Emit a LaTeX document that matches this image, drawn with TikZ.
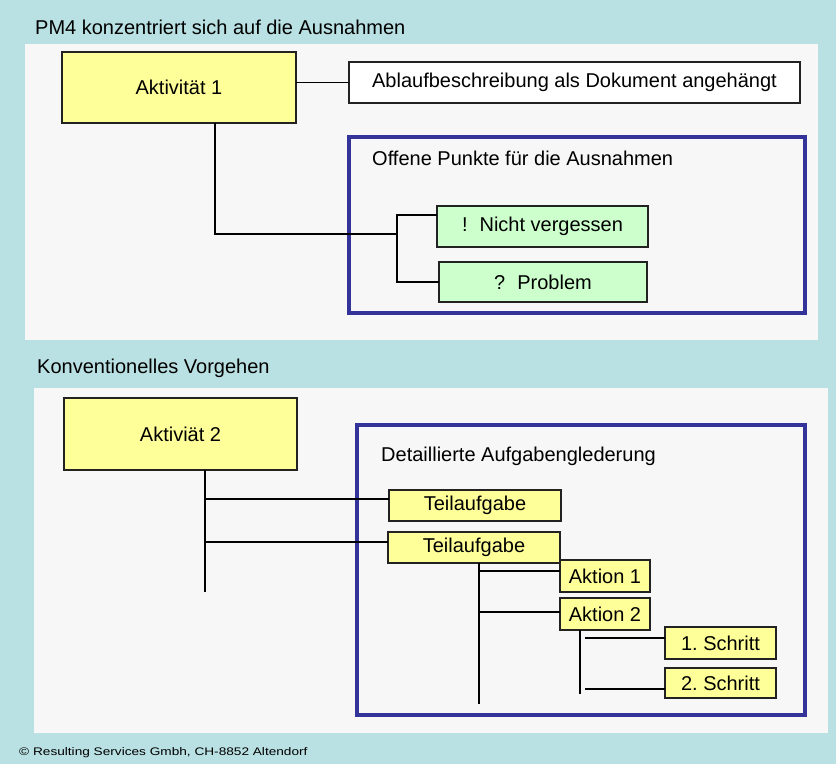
\documentclass[tikz,border=0pt]{standalone}
\usepackage{fontspec}
\setmainfont{Liberation Sans}
\frenchspacing
\definecolor{bgteal}{HTML}{B9E0E2}
\definecolor{panel}{HTML}{F7F7F7}
\definecolor{boxyellow}{HTML}{FFFF99}
\definecolor{boxgreen}{HTML}{CCFFCC}
\definecolor{frameblue}{HTML}{333399}
\definecolor{edge}{HTML}{222222}
\tikzset{
  txt/.style={font=\fontsize{20}{24}\selectfont, text=black},
  ybox/.style={txt, draw=edge, line width=1.5pt, fill=boxyellow, inner sep=0pt, outer sep=0pt},
  gbox/.style={txt, draw=edge, line width=1.5pt, fill=boxgreen, inner sep=0pt, outer sep=0pt},
  wbox/.style={txt, draw=edge, line width=1.5pt, fill=white, inner sep=0pt, outer sep=0pt},
  frame/.style={draw=frameblue, line width=4pt, inner sep=0pt, outer sep=0pt},
  conn/.style={draw=black, line width=1.4pt},
  heading/.style={txt, anchor=west, inner sep=0pt},
}
\begin{document}
\begin{tikzpicture}[x=1pt, y=-1pt]
\useasboundingbox (0,0) rectangle (836,764);
\fill[bgteal] (0,0) rectangle (836,764);
% panels
\fill[panel] (25,44) rectangle (818,340);
\fill[panel] (34,388) rectangle (828,733);

% headings
\node[heading] (h1) at (35,27) {PM4 konzentriert sich auf die Ausnahmen};
\node[heading] (h2) at (37,368) {Konventionelles Vorgehen};

% upper part
\node[frame, minimum width=456pt, minimum height=176pt] (f1) at (577,225) {};
\node[heading] (f1t) at (372,158) {Offene Punkte für die Ausnahmen};
\node[ybox, minimum width=234pt, minimum height=71pt] (a1) at (179,87.5) {Aktivität 1};
\node[wbox, minimum width=451pt, minimum height=41pt] (abl) at (574.5,82.5) {Ablaufbeschreibung als Dokument angehängt};
\node[gbox, minimum width=211pt, minimum height=41pt] (nv) at (542.5,226.5) {!\hspace{0.6em}Nicht vergessen};
\node[gbox, minimum width=208pt, minimum height=40pt] (pr) at (543,282) {?\hspace{0.6em}Problem};

\coordinate (j1) at (397,234);
\draw[conn] (a1.east |- abl.west) -- (abl.west);
\draw[conn] ([xshift=36pt]a1.south) |- (j1);
\draw[conn] ([yshift=11.5pt]nv.west) -| (j1) |- (pr.west);

% lower part
\node[frame, minimum width=448pt, minimum height=290pt] (f2) at (581,570) {};
\node[heading] (f2t) at (381,456) {Detaillierte Aufgabenglederung};
\node[ybox, minimum width=233pt, minimum height=72pt] (a2) at (180.5,434) {Aktiviät 2};
\node[ybox, minimum width=172pt, minimum height=31pt] (t1) at (475,505.5) {Teilaufgabe};
\node[ybox, minimum width=172pt, minimum height=31pt] (t2) at (474,547.5) {Teilaufgabe};
\node[ybox, minimum width=90pt, minimum height=32pt] (ak1) at (605,576) {Aktion 1};
\node[ybox, minimum width=90pt, minimum height=32pt] (ak2) at (605,614) {Aktion 2};
\node[ybox, minimum width=111pt, minimum height=32pt] (s1) at (720.5,643) {1. Schritt};
\node[ybox, minimum width=111pt, minimum height=30pt] (s2) at (720.5,683) {2. Schritt};

\coordinate (e2) at (205,592);
\coordinate (e3) at (479,704);
\coordinate (e4) at (580,694);
\coordinate (g4) at (585,694);
\draw[conn] ([xshift=24.5pt]a2.south) -- (e2);
\coordinate (t1in) at ([yshift=6.5pt]t1.west);
\coordinate (t2in) at ([yshift=5.5pt]t2.west);
\draw[conn] (t1in) -- (t1in -| e2);
\draw[conn] (t2in) -- (t2in -| e2);
\draw[conn] ([xshift=5pt]t2.south) -- (e3);
\coordinate (ak1in) at ([yshift=5pt]ak1.west);
\coordinate (ak2in) at ([yshift=2pt]ak2.west);
\draw[conn] (ak1in) -- (ak1in -| e3);
\draw[conn] (ak2in) -- (ak2in -| e3);
\draw[conn] ([xshift=-25pt]ak2.south) -- (e4);
\coordinate (s1in) at ([yshift=5pt]s1.west);
\coordinate (s2in) at ([yshift=-6pt]s2.west);
\draw[conn] (s1in) -- (s1in -| g4);
\draw[conn] (s2in) -- (s2in -| g4);

% footer
\node[anchor=west, inner sep=0pt, font=\fontsize{11}{13}\selectfont, xscale=1.24, transform shape] (foot) at (19,753) {© Resulting Services Gmbh, CH-8852 Altendorf};
\end{tikzpicture}
\end{document}
